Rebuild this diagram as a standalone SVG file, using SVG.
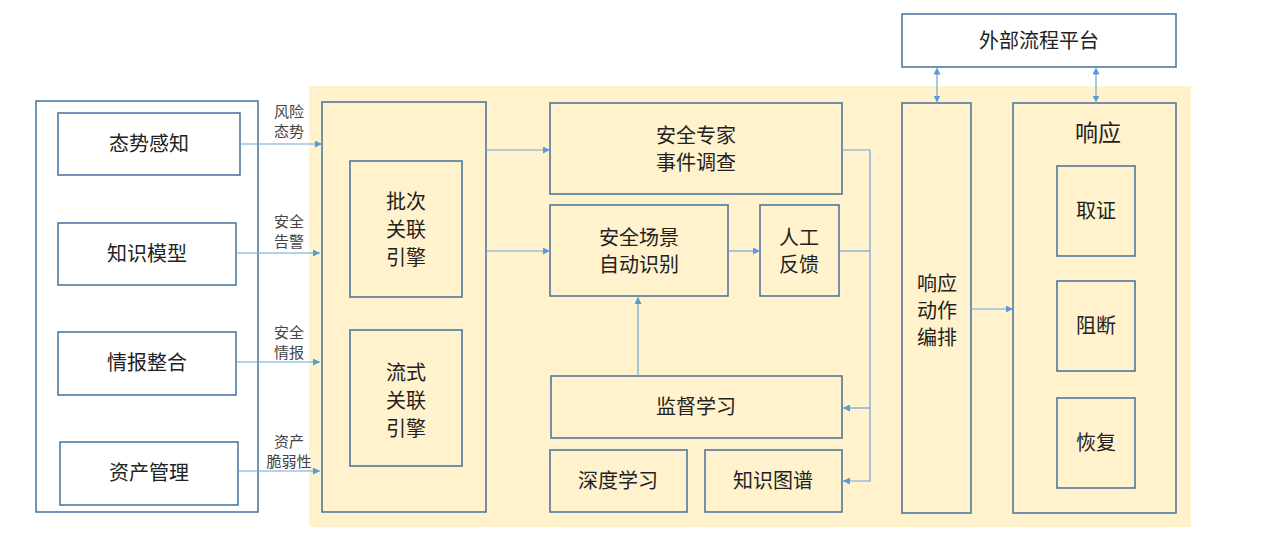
<svg xmlns="http://www.w3.org/2000/svg" width="1268" height="539" viewBox="0 0 1268 539">
<style>
.b{fill:none;stroke:#41719c;stroke-width:1.5}
.w{fill:#fff;stroke:#41719c;stroke-width:1.5}
.t{font-family:"Noto Sans CJK SC",sans-serif;font-size:20px;fill:#222;text-anchor:middle}
.s{font-family:"Noto Sans CJK SC",sans-serif;font-size:15px;fill:#444;text-anchor:middle}
.c{fill:none;stroke:#6fa4d8;stroke-width:1.2}
</style>
<defs><marker id="a" viewBox="0 0 10 10" refX="10" refY="5" markerWidth="7" markerHeight="7" orient="auto" markerUnits="userSpaceOnUse"><path d="M0,0L10,5L0,10z" fill="#5b9bd5"/></marker>
<marker id="a2" viewBox="0 0 10 10" refX="5" refY="5" markerWidth="7" markerHeight="7" orient="auto-start-reverse" markerUnits="userSpaceOnUse"><path d="M0,0L10,5L0,10z" fill="#5b9bd5"/></marker></defs>
<rect x="309" y="86" width="882" height="441" fill="#fff2cc"/>
<g id="left"><rect class="b" x="36" y="101" width="222" height="411"/></g>
<g id="n1"><rect class="w" x="58" y="113" width="182" height="62"/><text class="t" x="149" y="151">态势感知</text></g>
<g id="n2"><rect class="w" x="58" y="223" width="178" height="62"/><text class="t" x="147" y="261">知识模型</text></g>
<g id="n3"><rect class="w" x="58" y="332" width="178" height="63"/><text class="t" x="147" y="370">情报整合</text></g>
<g id="n4"><rect class="w" x="60" y="442" width="178" height="63"/><text class="t" x="149" y="480">资产管理</text></g>
<g id="engine"><rect class="b" x="322" y="102" width="164" height="410"/></g>
<g id="batch"><rect class="b" x="350" y="161" width="112" height="136"/><text class="t" x="406" y="209">批次</text><text class="t" x="406" y="237">关联</text><text class="t" x="406" y="265">引擎</text></g>
<g id="stream"><rect class="b" x="350" y="330" width="112" height="136"/><text class="t" x="406" y="380">流式</text><text class="t" x="406" y="408">关联</text><text class="t" x="406" y="436">引擎</text></g>
<g id="expert"><rect class="b" x="550" y="103" width="292" height="91"/><text class="t" x="696" y="143">安全专家</text><text class="t" x="696" y="170">事件调查</text></g>
<g id="scene"><rect class="b" x="550" y="205" width="178" height="91"/><text class="t" x="639" y="245">安全场景</text><text class="t" x="639" y="272">自动识别</text></g>
<g id="manual"><rect class="b" x="760" y="205" width="79" height="91"/><text class="t" x="799" y="245">人工</text><text class="t" x="799" y="272">反馈</text></g>
<g id="sup"><rect class="b" x="551" y="376" width="291" height="62"/><text class="t" x="696" y="414">监督学习</text></g>
<g id="deep"><rect class="b" x="550" y="450" width="137" height="62"/><text class="t" x="618" y="488">深度学习</text></g>
<g id="kg"><rect class="b" x="705" y="450" width="137" height="62"/><text class="t" x="773" y="488">知识图谱</text></g>
<g id="orch"><rect class="b" x="902" y="103" width="69" height="410"/><text class="t" x="937" y="291">响应</text><text class="t" x="937" y="318">动作</text><text class="t" x="937" y="345">编排</text></g>
<g id="ext"><rect class="w" x="902" y="14" width="274" height="53"/><text class="t" x="1039" y="48">外部流程平台</text></g>
<g id="resp"><rect class="b" x="1013" y="103" width="163" height="410"/><text class="t" x="1098" y="141" style="font-size:23px">响应</text>
<rect class="b" x="1057" y="166" width="78" height="90"/><text class="t" x="1096" y="218">取证</text>
<rect class="b" x="1057" y="281" width="78" height="90"/><text class="t" x="1096" y="333">阻断</text>
<rect class="b" x="1057" y="398" width="78" height="90"/><text class="t" x="1096" y="450">恢复</text></g>
<g id="labels">
<text class="s" x="289" y="117">风险</text><text class="s" x="289" y="137">态势</text>
<text class="s" x="289" y="227">安全</text><text class="s" x="289" y="247">告警</text>
<text class="s" x="289" y="338">安全</text><text class="s" x="289" y="358">情报</text>
<text class="s" x="289" y="447">资产</text><text class="s" x="289" y="467">脆弱性</text>
</g>
<g id="connectors">
<path class="c" d="M240,144H322" marker-end="url(#a)"/>
<path class="c" d="M236,253H320" marker-end="url(#a)"/>
<path class="c" d="M236,362H320" marker-end="url(#a)"/>
<path class="c" d="M238,471H320" marker-end="url(#a)"/>
<path class="c" d="M486,150H550" marker-end="url(#a)"/>
<path class="c" d="M486,251H550" marker-end="url(#a)"/>
<path class="c" d="M728,251H760" marker-end="url(#a)"/>
<path class="c" d="M638,376V297" marker-end="url(#a)"/>
<path class="c" d="M842,150H870V481H843" marker-end="url(#a)"/>
<path class="c" d="M839,251H870"/>
<path class="c" d="M870,408H843" marker-end="url(#a)"/>
<path class="c" d="M971,309H1013" marker-end="url(#a)"/>
<path class="c" d="M937,71V99" marker-start="url(#a2)" marker-end="url(#a2)"/>
<path class="c" d="M1096,71V99" marker-start="url(#a2)" marker-end="url(#a2)"/>
</g>
</svg>
